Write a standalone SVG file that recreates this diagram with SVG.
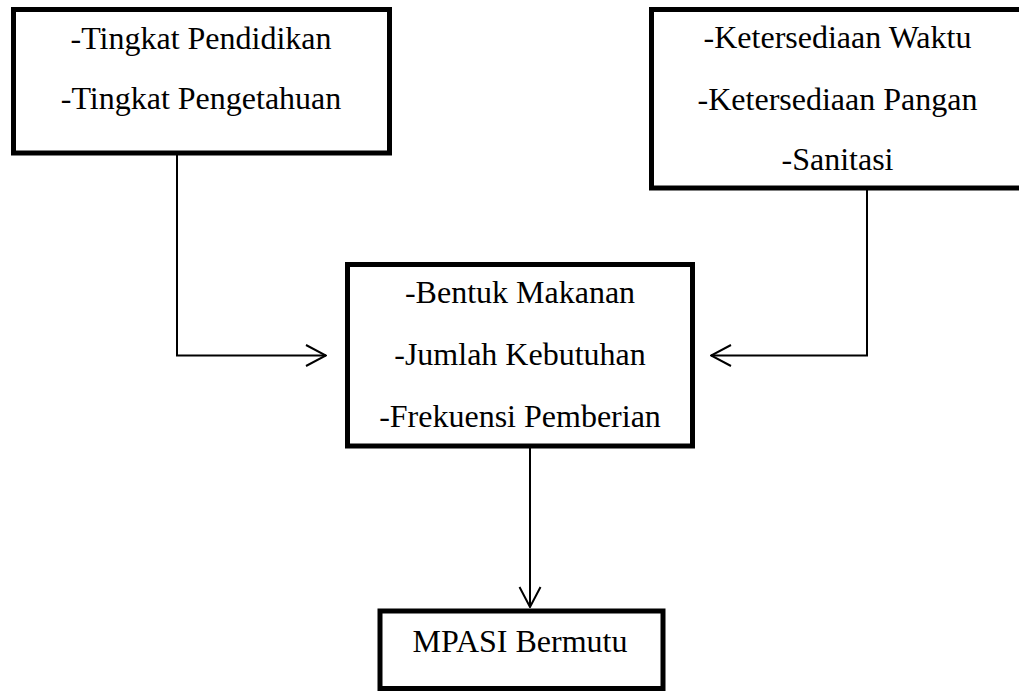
<svg xmlns="http://www.w3.org/2000/svg" width="1019" height="692" viewBox="0 0 1019 692">
<style>
.box{fill:#fff;stroke:#000;stroke-width:5}
.t{font-family:"Liberation Serif","Times New Roman",serif;font-size:32px;fill:#000;text-anchor:middle}
.c{fill:none;stroke:#000;stroke-width:2}
</style>
<defs>
<marker id="arr" viewBox="0 0 22 24" refX="21" refY="12" markerWidth="22" markerHeight="24" markerUnits="userSpaceOnUse" orient="auto">
<path d="M1,1.5 L21,12 L1,22.5" fill="none" stroke="#000" stroke-width="2"/>
</marker>
</defs>
<rect width="1019" height="692" fill="#fff"/>
<g id="connectors">
<path class="c" d="M177 155 V355.5 H326" marker-end="url(#arr)"/>
<path class="c" d="M867 190 V355.5 H711" marker-end="url(#arr)"/>
<path class="c" d="M530 448 V607" marker-end="url(#arr)"/>
</g>
<g id="node-pendidikan">
<rect class="box" x="13.5" y="9.5" width="376" height="143.5"/>
<text class="t" x="201" y="49">-Tingkat Pendidikan</text>
<text class="t" x="201" y="109">-Tingkat Pengetahuan</text>
</g>
<g id="node-ketersediaan">
<rect class="box" x="651.5" y="9.5" width="372" height="178.5"/>
<text class="t" x="837.5" y="48">-Ketersediaan Waktu</text>
<text class="t" x="837.5" y="110">-Ketersediaan Pangan</text>
<text class="t" x="837.5" y="170">-Sanitasi</text>
</g>
<g id="node-bentuk">
<rect class="box" x="347.5" y="264.5" width="345" height="181.5"/>
<text class="t" x="520" y="303">-Bentuk Makanan</text>
<text class="t" x="520" y="365">-Jumlah Kebutuhan</text>
<text class="t" x="520" y="427">-Frekuensi Pemberian</text>
</g>
<g id="node-mpasi">
<rect class="box" x="380" y="611" width="283" height="77.5"/>
<text class="t" x="520" y="652">MPASI Bermutu</text>
</g>
</svg>
